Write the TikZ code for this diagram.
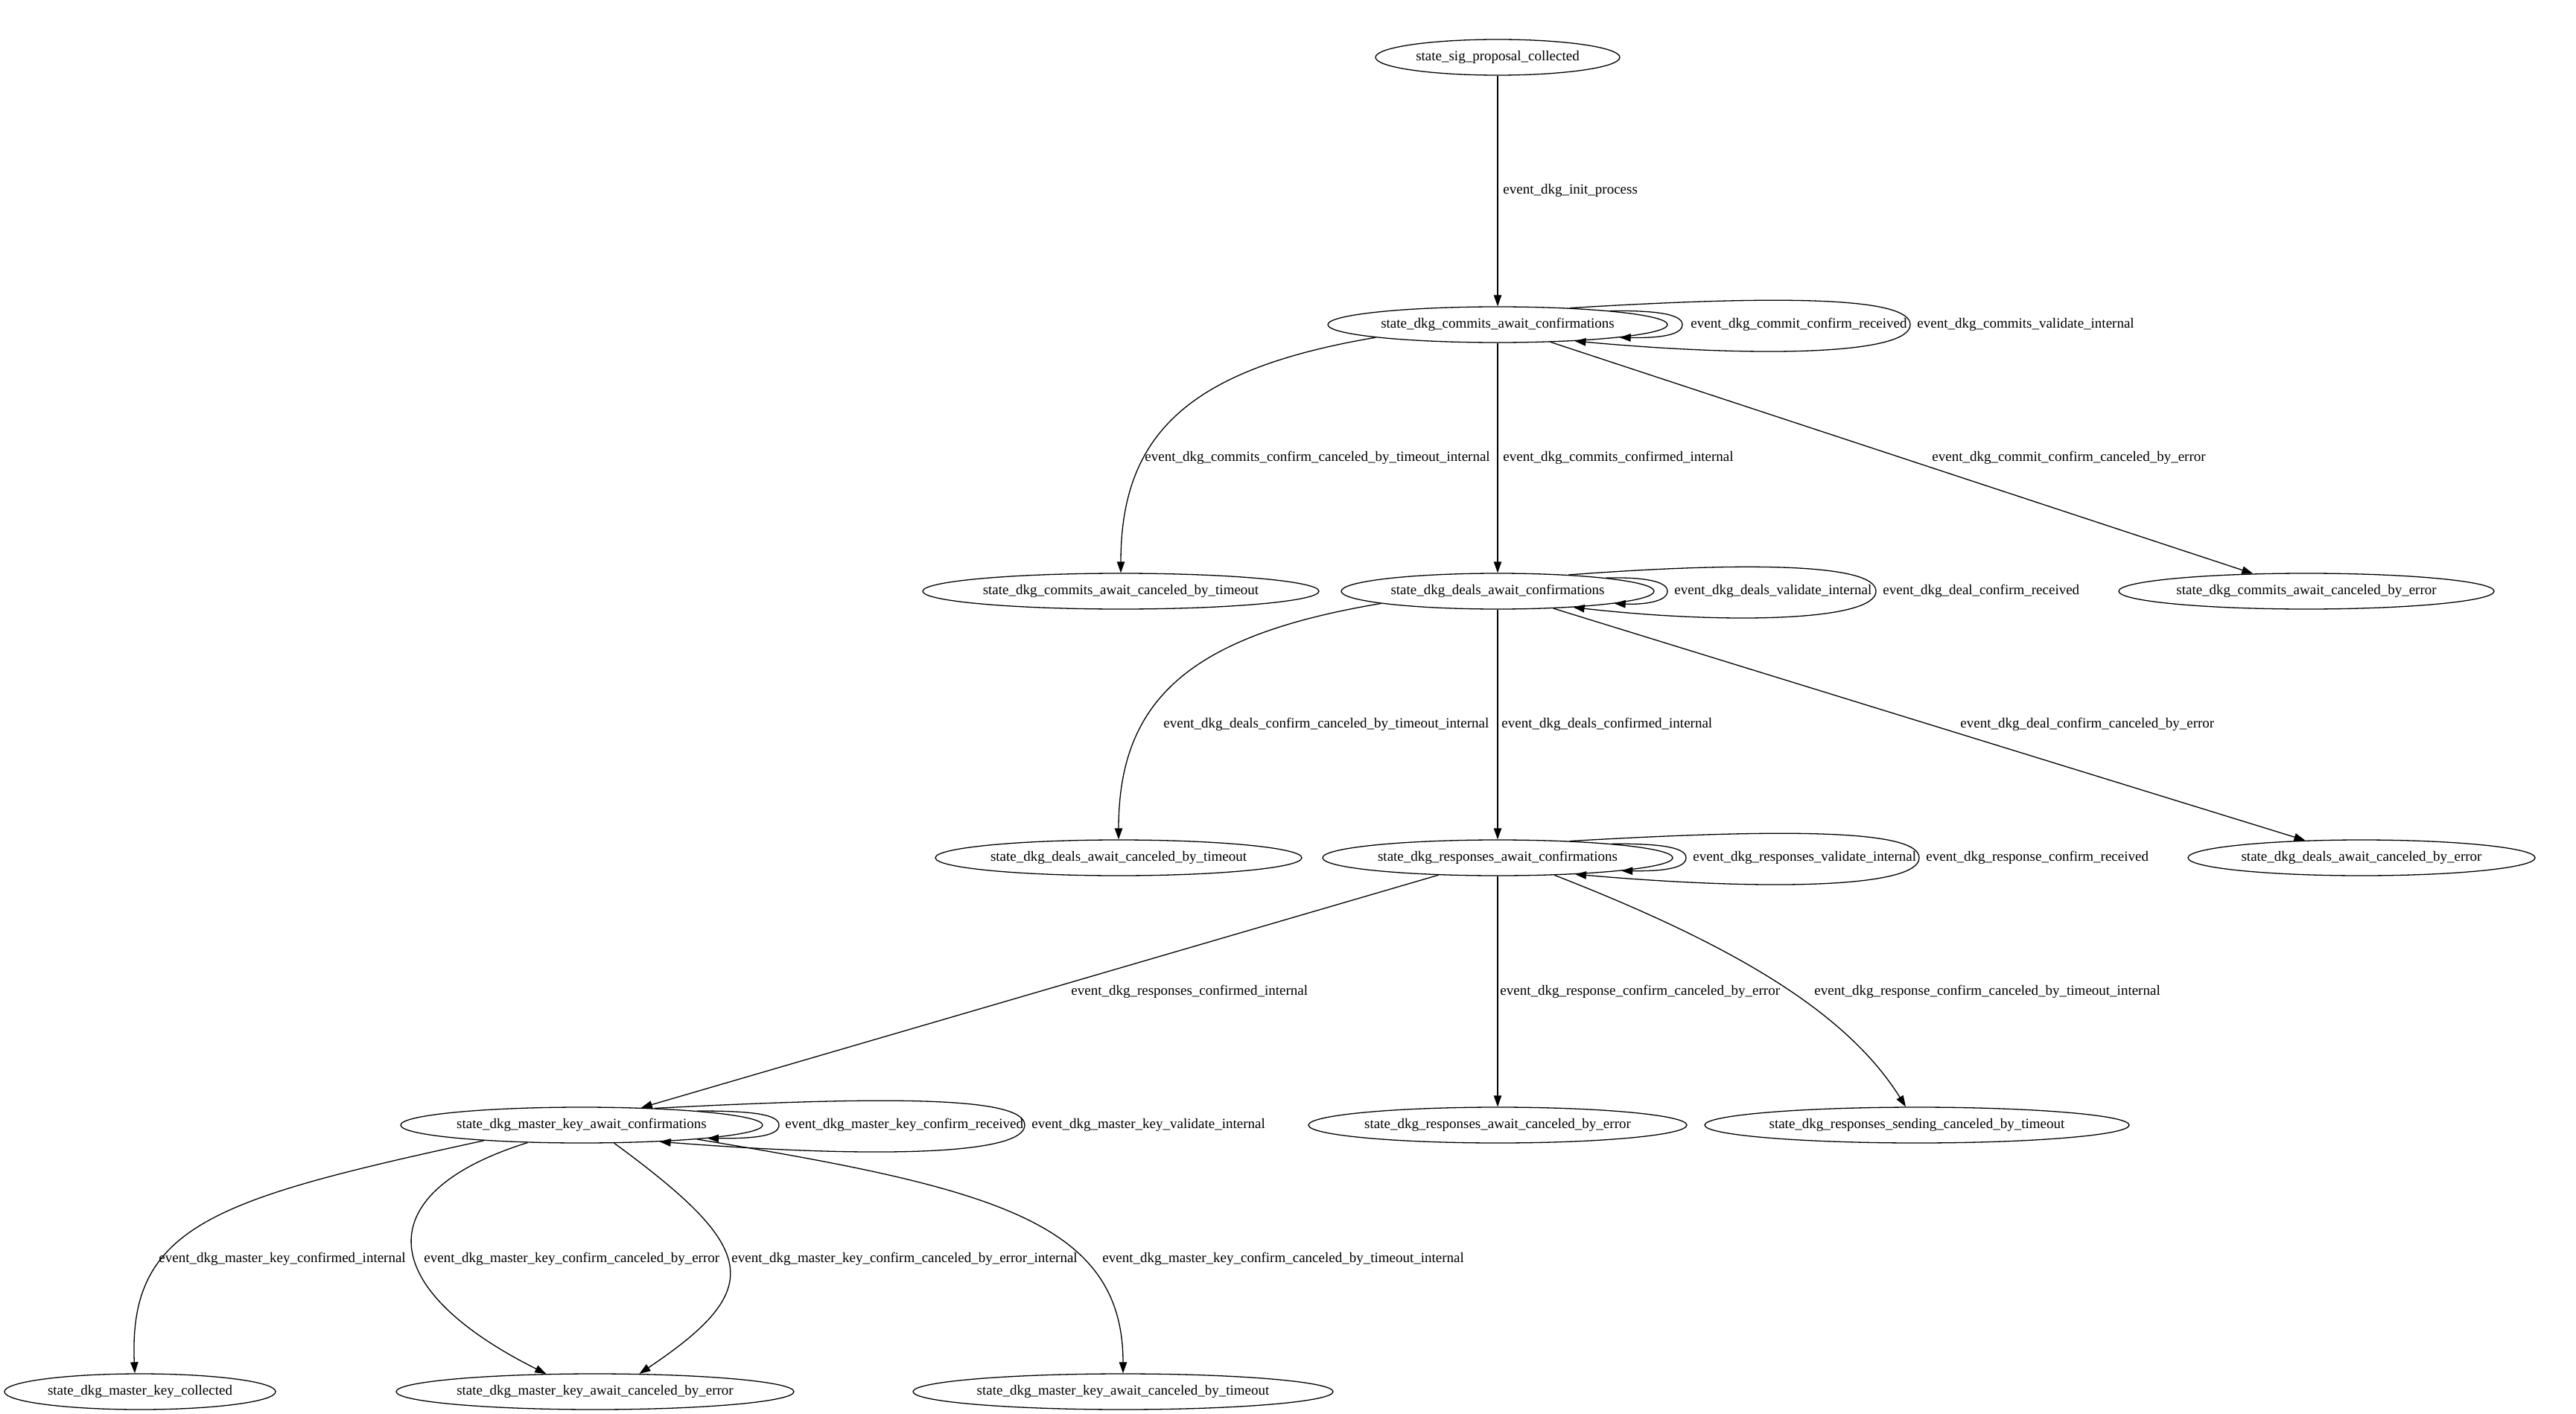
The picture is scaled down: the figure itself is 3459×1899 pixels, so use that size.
\documentclass[tikz,border=0pt]{standalone}
\usepackage{fontspec}
\setmainfont{Liberation Serif}
\usetikzlibrary{shapes.geometric,arrows.meta}
\tikzset{
  state/.style={ellipse, draw, line width=0.65pt, inner sep=0pt, minimum height=24pt,
                font=\fontsize{9.5}{11}\selectfont},
  edge/.style={draw, line width=0.65pt, -{Triangle[length=7.5pt,width=5.2pt]}},
  lbl/.style={anchor=west, inner sep=0pt, font=\fontsize{9.5}{11}\selectfont}
}
\newcommand\dkgloops[4]{%
  \draw[edge] (#1.7) .. controls ({#3-45},{#2-19}) and (#3,{#2-16}) .. (#3,#2)
              .. controls (#3,{#2+16}) and ({#3-40},{#2+18}) .. (#1.354);
  \draw[edge] (#1.13) .. controls ({#4-200},{#2-38}) and (#4,{#2-40}) .. (#4,#2)
              .. controls (#4,{#2+40}) and ({#4-200},{#2+45}) .. (#1.348);
}
\begin{document}
\begin{tikzpicture}[x=0.5pt,y=-0.5pt]
\fill[white] (0,0) rectangle (3459,1899);
\useasboundingbox (0,0) rectangle (3459,1899);

% states
\node[state, minimum width=164pt] (sig)    at (2011,77)   {state\_sig\_proposal\_collected};
\node[state, minimum width=228pt] (commits) at (2011,436) {state\_dkg\_commits\_await\_confirmations};
\node[state, minimum width=266pt] (cto)    at (1505,794)  {state\_dkg\_commits\_await\_canceled\_by\_timeout};
\node[state, minimum width=210pt] (deals)  at (2011,794)  {state\_dkg\_deals\_await\_confirmations};
\node[state, minimum width=252pt] (cerr)   at (3097,794)  {state\_dkg\_commits\_await\_canceled\_by\_error};
\node[state, minimum width=246pt] (dto)    at (1502,1152) {state\_dkg\_deals\_await\_canceled\_by\_timeout};
\node[state, minimum width=235pt] (resp)   at (2011,1152) {state\_dkg\_responses\_await\_confirmations};
\node[state, minimum width=233pt] (derr)   at (3171,1152) {state\_dkg\_deals\_await\_canceled\_by\_error};
\node[state, minimum width=243pt] (mk)     at (781,1511)  {state\_dkg\_master\_key\_await\_confirmations};
\node[state, minimum width=254pt] (rerr)   at (2011,1511) {state\_dkg\_responses\_await\_canceled\_by\_error};
\node[state, minimum width=285pt] (rsto)   at (2574,1511) {state\_dkg\_responses\_sending\_canceled\_by\_timeout};
\node[state, minimum width=182pt] (mkc)    at (188,1869)  {state\_dkg\_master\_key\_collected};
\node[state, minimum width=267pt] (mke)    at (799,1869)  {state\_dkg\_master\_key\_await\_canceled\_by\_error};
\node[state, minimum width=282pt] (mkt)    at (1508,1869) {state\_dkg\_master\_key\_await\_canceled\_by\_timeout};

% edges
\draw[edge] (sig) -- (commits);
\draw[edge] (commits.186) .. controls (1600,495) and (1505,580) .. (cto.north);
\draw[edge] (commits) -- (deals);
\draw[edge] (commits) -- (cerr);
\draw[edge] (deals.186) .. controls (1600,853) and (1502,938) .. (dto.north);
\draw[edge] (deals) -- (resp);
\draw[edge] (deals) -- (derr);
\draw[edge] (resp) -- (mk);
\draw[edge] (resp) -- (rerr);
\draw[edge] (resp.343) .. controls (2330,1270) and (2480,1360) .. ([xshift=-7.5pt]rsto.north);
\draw[edge] (mk.189.5) .. controls (290,1610) and (172,1645) .. ([xshift=-3.5pt]mkc.north);
\draw[edge] (mk.198) .. controls (498,1600) and (498,1727) .. (mke.160);
\draw[edge] (mk.331) .. controls (1018,1677) and (1030,1730) .. (mke.22);
\draw[edge] (mk.353) .. controls (1330,1595) and (1508,1640) .. (mkt.north);

% self loops
\dkgloops{commits}{436}{2259}{2565}
\dkgloops{deals}{794}{2239}{2519}
\dkgloops{resp}{1152}{2264}{2577}
\dkgloops{mk}{1511}{1046}{1376}

% labels
\node[lbl] (l1)  at (2018,256)  {event\_dkg\_init\_process};
\node[lbl] (l2)  at (1537,615)  {event\_dkg\_commits\_confirm\_canceled\_by\_timeout\_internal};
\node[lbl] (l3)  at (2018,615)  {event\_dkg\_commits\_confirmed\_internal};
\node[lbl] (l4)  at (2594,615)  {event\_dkg\_commit\_confirm\_canceled\_by\_error};
\node[lbl] (l5)  at (2270,436)  {event\_dkg\_commit\_confirm\_received};
\node[lbl] (l6)  at (2574,436)  {event\_dkg\_commits\_validate\_internal};
\node[lbl] (l7)  at (2248,794)  {event\_dkg\_deals\_validate\_internal};
\node[lbl] (l8)  at (2528,794)  {event\_dkg\_deal\_confirm\_received};
\node[lbl] (l9)  at (1562,973)  {event\_dkg\_deals\_confirm\_canceled\_by\_timeout\_internal};
\node[lbl] (l10) at (2016,973)  {event\_dkg\_deals\_confirmed\_internal};
\node[lbl] (l11) at (2632,973)  {event\_dkg\_deal\_confirm\_canceled\_by\_error};
\node[lbl] (l12) at (2273,1152) {event\_dkg\_responses\_validate\_internal};
\node[lbl] (l13) at (2586,1152) {event\_dkg\_response\_confirm\_received};
\node[lbl] (l14) at (1438,1332) {event\_dkg\_responses\_confirmed\_internal};
\node[lbl] (l15) at (2014,1332) {event\_dkg\_response\_confirm\_canceled\_by\_error};
\node[lbl] (l16) at (2436,1332) {event\_dkg\_response\_confirm\_canceled\_by\_timeout\_internal};
\node[lbl] (l17) at (1054,1511) {event\_dkg\_master\_key\_confirm\_received};
\node[lbl] (l18) at (1385,1511) {event\_dkg\_master\_key\_validate\_internal};
\node[lbl] (l19) at (213,1691)  {event\_dkg\_master\_key\_confirmed\_internal};
\node[lbl] (l20) at (569,1691)  {event\_dkg\_master\_key\_confirm\_canceled\_by\_error};
\node[lbl] (l21) at (982,1691)  {event\_dkg\_master\_key\_confirm\_canceled\_by\_error\_internal};
\node[lbl] (l22) at (1480,1691) {event\_dkg\_master\_key\_confirm\_canceled\_by\_timeout\_internal};
\end{tikzpicture}
\end{document}
